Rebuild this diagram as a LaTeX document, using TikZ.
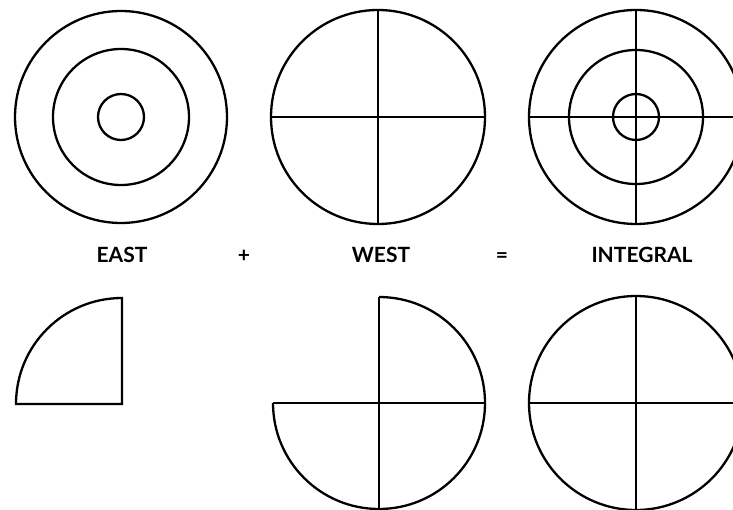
\documentclass[tikz,border=0pt]{standalone}
\usepackage{fontspec}
\setmainfont{Lato}
\usepackage{tikz}
\usetikzlibrary{positioning, calc}

\begin{document}
\begin{tikzpicture}[
    x=1pt, y=1pt,
    ring/.style={line width=2.3pt, black},
    cross/.style={line width=2.1pt, black},
    word/.style={font=\bfseries\fontsize{21}{21}\selectfont, inner sep=0pt, anchor=base}
]
    \useasboundingbox (0,0) rectangle (733,509);
    \clip (0,0) rectangle (733,509);

    % centres
    \coordinate (east) at (121,392);
    \coordinate (west) at (378,392);
    \coordinate (integral) at (636,392);
    \coordinate (quarter) at (122,105);
    \coordinate (three) at (379,106);
    \coordinate (whole) at (636,106);

    % top row
    \draw [ring] (east) circle (106);
    \draw [ring] (east) circle (68);
    \draw [ring] (east) circle (23);

    \draw [ring] (west) circle (107);
    \draw [cross] ($(west)+(0,107)$) -- ($(west)+(0,-107)$);
    \draw [cross] ($(west)+(-107,0)$) -- ($(west)+(107,0)$);

    \draw [ring] (integral) circle (107);
    \draw [ring] (integral) circle (67);
    \draw [ring] (integral) circle (23);
    \draw [cross] ($(integral)+(0,107)$) -- ($(integral)+(0,-107)$);
    \draw [cross] ($(integral)+(-107,0)$) -- ($(integral)+(107,0)$);

    % labels
    \node (least) [word] at (122,246) {EAST};
    \node (plus) [word] at (244,246) {+};
    \node (lwest) [word] at (381,246) {WEST};
    \node (equals) [word] at (502,246) {=};
    \node (lintegral) [word] at (642,246) {INTEGRAL};

    % bottom row
    \draw [ring, line join=miter] (quarter) -- ++(-106,0) arc[start angle=180, end angle=90, radius=106] -- cycle;

    \draw [ring] ($(three)+(0,106)$) arc[start angle=90, end angle=-180, radius=106];
    \draw [cross] ($(three)+(0,106)$) -- ($(three)+(0,-106)$);
    \draw [cross] ($(three)+(-106,0)$) -- ($(three)+(106,0)$);

    \draw [ring] (whole) circle (107);
    \draw [cross] ($(whole)+(0,107)$) -- ($(whole)+(0,-107)$);
    \draw [cross] ($(whole)+(-107,0)$) -- ($(whole)+(107,0)$);
\end{tikzpicture}
\end{document}
